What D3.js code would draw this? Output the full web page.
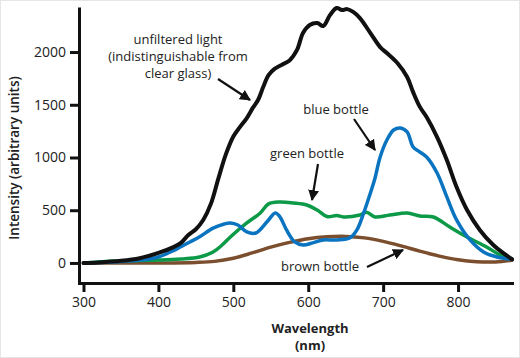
<!DOCTYPE html>
<html>
<head>
<meta charset="utf-8">
<script src="https://cdn.jsdelivr.net/npm/d3@7"></script>
<style>
  html, body { margin: 0; padding: 0; background: #fff; }
  svg { display: block; font-family: "Open Sans", "Noto Sans", sans-serif; }
</style>
</head>
<body>
<svg id="chart" width="520" height="358"></svg>
<script>
// ---- Data ----
const xTicks = [300, 400, 500, 600, 700, 800];
const yTicks = [0, 500, 1000, 1500, 2000];

const unfilteredWl = [300,320,350,375,400,420,430,440,450,460,470,480,490,500,509,518,526,533,540,547,555,565,575,585,593,602,612,620,629,638,645,652,660,669,683,696,705,719,732,740,749,758,772,785,798,812,829,847,860,872];
const unfilteredI  = [0,5,20,45,95,150,190,265,320,410,560,800,1030,1200,1290,1374,1470,1545,1670,1780,1840,1880,1920,2020,2180,2256,2275,2246,2350,2417,2398,2407,2380,2322,2180,2047,1990,1896,1763,1620,1480,1384,1194,976,720,502,313,170,95,35];

const blueWl = [300,350,380,400,420,430,442,455,473,488,496,506,518,530,545,556,562,571,582,593,606,620,638,656,665,674,683,689,696,705,714,723,732,740,749,758,772,785,798,816,834,852,872];
const blueI  = [0,15,30,57,117,155,199,248,330,370,379,360,294,284,390,474,440,313,199,170,190,218,218,240,313,474,663,800,1005,1166,1261,1280,1242,1100,1052,1005,853,626,408,218,104,57,35];

const greenWl = [300,320,350,400,430,455,473,485,496,518,536,547,562,580,598,612,625,638,647,669,678,689,709,732,749,767,789,812,838,856,872];
const greenI  = [0,10,20,28,38,57,104,170,246,379,474,560,578,569,550,502,440,450,436,455,480,436,455,474,446,436,341,246,152,76,35];

const brownWl = [300,350,400,450,475,500,525,550,575,600,625,650,675,700,725,750,775,800,825,850,872];
const brownI  = [0,0,0,5,15,45,95,150,195,230,248,252,238,205,160,110,65,30,12,10,25];

const seriesNames  = ["brown bottle", "green bottle", "blue bottle", "unfiltered light"];

// ---- Layout ----
const svg = d3.select("#chart");
const W = 520, H = 358;

svg.append("rect").attr("x", 0.5).attr("y", 0.5).attr("width", W - 1).attr("height", H - 1)
  .attr("fill", "#fff").attr("stroke", "#e6e6e6");

const x = d3.scaleLinear().domain([294, 872]).range([79, 512]);
const y = d3.scaleLinear().domain([-190, 2427]).range([283, 7]);

// axes
const gx = svg.append("g").attr("transform", `translate(0,${y.range()[0]})`)
  .call(d3.axisBottom(x).tickValues(xTicks).tickFormat(d3.format("d")).tickSize(9).tickSizeOuter(0).tickPadding(5));
const gy = svg.append("g").attr("transform", `translate(${x.range()[0]},0)`)
  .call(d3.axisLeft(y).tickValues(yTicks).tickFormat(d3.format("d")).tickSize(9).tickSizeOuter(0).tickPadding(4));

[gx, gy].forEach(g => {
  g.select(".domain").attr("stroke", "#111").attr("stroke-width", 3);
  g.selectAll(".tick line").attr("stroke", "#111").attr("stroke-width", 3);
  g.selectAll(".tick text").attr("fill", "#222").style("font-size", "14px")
    .style("font-family", "'Open Sans', sans-serif");
});
gx.select(".domain").attr("stroke-linecap", "square");

// curves
const line = d3.line().x(d => x(d[0])).y(d => y(d[1])).curve(d3.curveCatmullRom.alpha(0.5));
const zip = (a, b) => a.map((v, i) => [v, b[i]]);

const series = [
  { name: seriesNames[0], data: zip(brownWl, brownI), color: "#7b4f2e", w: 3.5 },
  { name: seriesNames[1], data: zip(greenWl, greenI), color: "#0d9a48", w: 3.5 },
  { name: seriesNames[2], data: zip(blueWl, blueI),  color: "#0a74c0", w: 3.5 },
  { name: seriesNames[3], data: zip(unfilteredWl, unfilteredI), color: "#111111", w: 4 }
];

svg.append("g").selectAll("path").data(series).join("path")
  .attr("d", d => line(d.data))
  .attr("fill", "none")
  .attr("stroke", d => d.color)
  .attr("stroke-width", d => d.w)
  .attr("stroke-linejoin", "round")
  .attr("stroke-linecap", "round");

// axis titles
svg.append("text").attr("x", 310).attr("y", 333).attr("text-anchor", "middle")
  .style("font-size", "13px").style("font-weight", "700").attr("fill", "#222").text("Wavelength");
svg.append("text").attr("x", 310).attr("y", 350).attr("text-anchor", "middle")
  .style("font-size", "13px").style("font-weight", "700").attr("fill", "#222").text("(nm)");
svg.append("text").attr("transform", "translate(19,158) rotate(-90)").attr("text-anchor", "middle")
  .style("font-size", "13.5px").style("font-weight", "600").attr("fill", "#222")
  .text("Intensity (arbitrary units)");

// annotations
const defs = svg.append("defs");
defs.append("marker").attr("id", "ah").attr("viewBox", "0 0 10 10")
  .attr("refX", 9).attr("refY", 5).attr("markerWidth", 5).attr("markerHeight", 5)
  .attr("orient", "auto").attr("markerUnits", "strokeWidth")
  .append("path").attr("d", "M0,0 L10,5 L0,10 Z").attr("fill", "#111");

function label(lines, cx, cy, lh) {
  lines.forEach((s, i) => svg.append("text").attr("text-anchor", "middle")
    .style("font-size", "13px").attr("fill", "#222")
    .attr("x", cx).attr("y", cy + i * lh).text(s));
}
function arrow(x1, y1, x2, y2) {
  svg.append("line").attr("x1", x1).attr("y1", y1).attr("x2", x2).attr("y2", y2)
    .attr("stroke", "#111").attr("stroke-width", 2.2).attr("marker-end", "url(#ah)");
}

label(["unfiltered light", "(indistinguishable from", "clear glass)"], 178, 44, 17);
arrow(218, 79, 250, 100);
label(["blue bottle"], 336, 114, 15);
arrow(354, 119, 375, 150);
label(["green bottle"], 307, 158, 15);
arrow(318, 164, 312, 200);
label(["brown bottle"], 320, 271, 15);
arrow(367, 267, 403, 250);
</script>
</body>
</html>
